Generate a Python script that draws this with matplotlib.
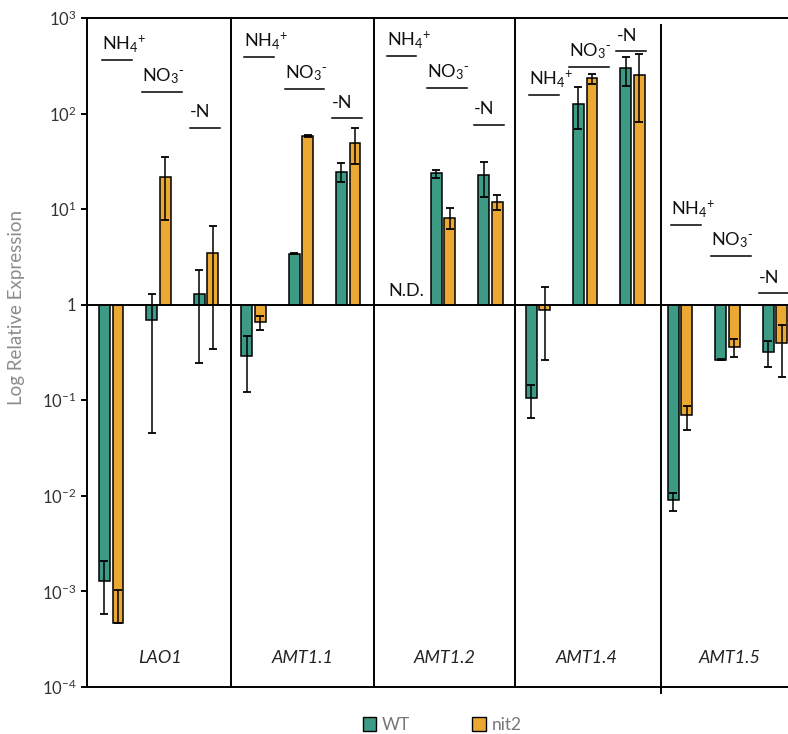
import numpy as np
import matplotlib
matplotlib.use('Agg')
import matplotlib.pyplot as plt
from matplotlib.patches import Patch
from matplotlib.ticker import FixedLocator, FuncFormatter, NullLocator

plt.rcParams['font.family'] = ['Lato', 'DejaVu Sans']
plt.rcParams['mathtext.default'] = 'regular'

# 数据 (按 基因 x 条件 排列: NH4+, NO3-, -N)
genes = ['LAO1', 'AMT1.1', 'AMT1.2', 'AMT1.4', 'AMT1.5']
conditions = [r'NH$_{4}{}^{+}$', r'NO$_{3}{}^{\text{-}}$', '-N']
nan = np.nan

wt = [1.3e-3, 0.70, 1.29, 0.292, 3.42, 24.5, nan, 23.7, 22.8,
      0.105, 127, 301, 0.0090, 0.267, 0.319]
wt_lo = [5.8e-4, 0.046, 0.247, 0.123, 3.38, 19.1, nan, 21.4, 13.4,
         0.065, 69.7, 196, 0.0070, 0.262, 0.224]
wt_hi = [2.1e-3, 1.31, 2.31, 0.474, 3.46, 30.7, nan, 25.5, 31.4,
         0.143, 188, 392, 0.0108, 0.272, 0.413]

nit2 = [4.7e-4, 21.7, 3.44, 0.664, 58.4, 49.3, nan, 8.15, 11.9,
        0.887, 234, 254, 0.070, 0.360, 0.393]
nit2_lo = [4.7e-4, 7.7, 0.346, 0.538, 57.5, 29.9, nan, 6.2, 9.9,
           0.267, 203, 82.5, 0.049, 0.285, 0.177]
nit2_hi = [1.04e-3, 35.5, 6.67, 0.767, 59.5, 70.2, nan, 10.4, 13.9,
           1.52, 262, 422, 0.088, 0.44, 0.618]

not_detected = [(2, 0)]  # AMT1.2, NH4+

# 条件标签下划线高度 (log10)
label_y = [[2.56, 2.23, 1.85],
           [2.59, 2.26, 1.95],
           [2.60, 2.27, 1.885],
           [2.19, 2.49, 2.65],
           [0.83, 0.51, 0.12]]
label_dx = [-0.05, -0.2, -0.2]
label_w = [0.63, 0.84, 0.63]

green = '#3d9a85'
orange = '#eba934'
width = 0.23
offset = 0.285

fig = plt.figure(figsize=(7.88, 7.34), dpi=100)
ax = fig.add_axes([87 / 788, 47 / 734, 701 / 788, 669 / 734])
ax.set_yscale('log')

x = np.arange(len(wt), dtype=float)
for vals, lo, hi, xs, col in [(wt, wt_lo, wt_hi, x, green),
                              (nit2, nit2_lo, nit2_hi, x + offset, orange)]:
    v = np.array(vals)
    lo = np.array(lo)
    hi = np.array(hi)
    ok = ~np.isnan(v)
    ax.bar(xs[ok], v[ok] - 1, bottom=1, width=width, color=col,
           edgecolor='black', linewidth=1.1, zorder=2)
    ax.errorbar(xs[ok], v[ok], yerr=[v[ok] - lo[ok], hi[ok] - v[ok]],
                fmt='none', ecolor='black', elinewidth=1.1, capsize=3.2,
                capthick=1.3, zorder=3)

ax.axhline(1, color='black', lw=1.4, zorder=4)

# 分隔线
for xd in [2.66, 5.69, 8.66]:
    ax.axvline(xd, color='black', lw=1.4, zorder=1)
ax.plot([11.74, 11.74], [-0.009, 0.9895], color='black', lw=1.4,
        transform=ax.get_xaxis_transform(), clip_on=False, zorder=1)

# 条件标签
for g in range(len(genes)):
    for c in range(3):
        k = 3 * g + c
        yl = 10 ** label_y[g][c]
        x0 = k + label_dx[c]
        ax.plot([x0, x0 + label_w[c]], [yl, yl], color='black', lw=1.1)
        ax.annotate(conditions[c], xy=(x0, yl), xytext=(0, 7.5),
                    textcoords='offset points', ha='left', va='baseline',
                    fontsize=13, color='#111111')

for g, c in not_detected:
    ax.text(3 * g + c - 0.02, 1.24, 'N.D.', ha='left', va='baseline',
            fontsize=13, color='#111111')

# 基因名
for g, name in enumerate(genes):
    ax.text(3 * g + 1.18, 0.043, name, transform=ax.get_xaxis_transform(),
            ha='center', va='center', style='italic', fontsize=13,
            color='#222222')

ax.set_xlim(-0.369, 14.42)
ax.set_ylim(1e-4, 1e3)
ax.set_xticks([])
ax.yaxis.set_major_locator(FixedLocator([10.0 ** p for p in range(-4, 4)]))
ax.yaxis.set_minor_locator(NullLocator())


def fmt(val, pos):
    p = int(round(np.log10(val)))
    return '1' if p == 0 else '$10^{%d}$' % p


ax.yaxis.set_major_formatter(FuncFormatter(fmt))
ax.tick_params(axis='y', direction='out', length=4.5, width=1.4,
               labelsize=12, labelcolor='#333333', pad=3)
for s in ['left', 'top', 'bottom']:
    ax.spines[s].set_linewidth(1.4)
ax.spines['right'].set_visible(False)

ax.set_ylabel('Log Relative Expression', fontsize=13.5, color='#8c8c8c')
ax.yaxis.set_label_coords(-0.088, 0.568)

handles = [Patch(facecolor=green, edgecolor='black', label='WT'),
           Patch(facecolor=orange, edgecolor='black', label='nit2')]
fig.legend(handles=handles, loc='center', bbox_to_anchor=(442 / 788, 1 - 725 / 734),
           ncol=2, frameon=False, fontsize=12.5, handlelength=0.8,
           handleheight=0.8, handletextpad=0.3, columnspacing=3.6,
           labelcolor='#777777')

fig.savefig('out.png', dpi=100)
